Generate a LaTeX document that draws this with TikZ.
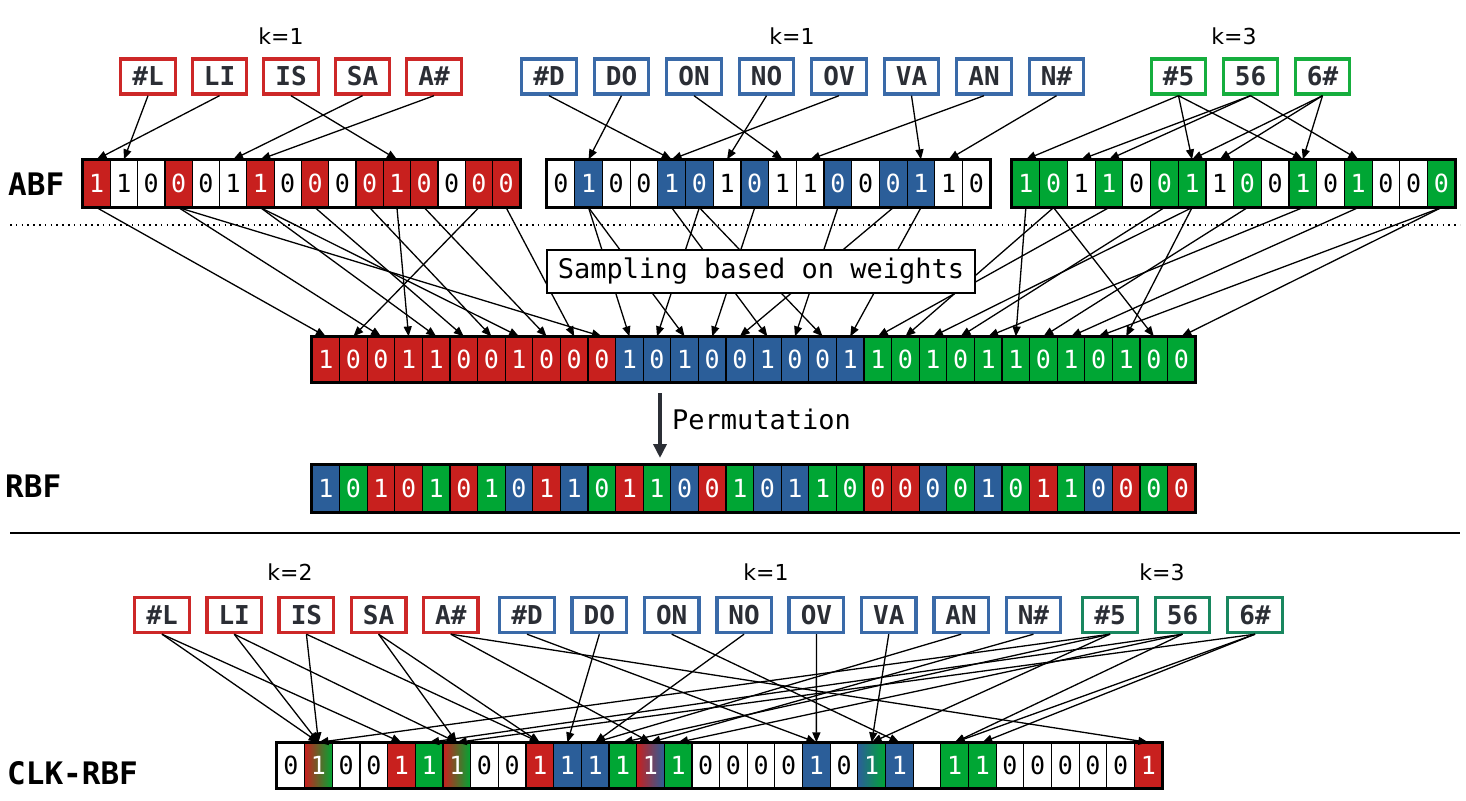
\documentclass[tikz,border=0pt]{standalone}
\usepackage{fontspec}
\setmainfont{DejaVu Sans}
\setmonofont{DejaVu Sans Mono}
\usetikzlibrary{arrows.meta}
\definecolor{cr}{RGB}{200,32,30}
\definecolor{cb}{RGB}{43,94,153}
\definecolor{cg}{RGB}{0,166,52}
\definecolor{br}{RGB}{205,40,40}
\definecolor{bb}{RGB}{58,106,168}
\definecolor{bgr}{RGB}{22,174,62}
\definecolor{bt}{RGB}{24,135,95}
\definecolor{tokc}{RGB}{43,46,53}
\newcommand\bitfont{\ttfamily\fontsize{25}{25}\selectfont}
\newcommand\tokfont{\ttfamily\bfseries\fontsize{26}{26}\selectfont}
\newcommand\labfont{\ttfamily\bfseries\fontsize{31}{31}\selectfont}
\newcommand\kfont{\fontsize{22}{22}\selectfont}
\newcommand\txtfont{\ttfamily\fontsize{27}{27}\selectfont}
\begin{document}
\begin{tikzpicture}[x=1pt,y=-1pt,
 cell/.style={draw=black,line width=1.2pt,inner sep=0pt,font=\bitfont},
 tok/.style={draw,line width=3.4pt,minimum width=54.5pt,minimum height=35pt,inner sep=0pt,font=\tokfont,text=tokc,fill=white},
 arr/.style={-{Triangle[length=10pt,width=8pt]},line width=1.3pt},
 frame/.style={line width=3pt},
 lab/.style={anchor=west,font=\labfont,inner sep=0pt},
 klab/.style={font=\kfont,inner sep=0pt}]
\useasboundingbox (0,0) rectangle (1466,800);

% ---------- labels ----------
\node[lab] (lABF) at (8,184) {ABF};
\node[lab] (lRBF) at (5,486) {RBF};
\node[lab] (lCLK) at (7,773) {CLK-RBF};
\node[klab] (k1a) at (281,36) {k=1};
\node[klab] (k1b) at (792,36) {k=1};
\node[klab] (k3a) at (1234,36) {k=3};
\node[klab] (k2c) at (290,572) {k=2};
\node[klab] (k1c) at (766,572) {k=1};
\node[klab] (k3c) at (1162,572) {k=3};

% ---------- separators ----------
\coordinate (dl) at (10,225); \coordinate (dr) at (1460,225);
\draw[line width=1.4pt,dash pattern=on 1.5pt off 4.3pt] (dl) -- (dr);
\coordinate (sl) at (10,533); \coordinate (sr) at (1460,533);
\draw[line width=1.4pt] (sl) -- (sr);

% ---------- top tokens ----------
\foreach \t [count=\i] in {\#L,LI,IS,SA,A\#}
  \node[tok,draw=br] (tR\i) at ({148+71.5*(\i-1)},76.5) {\t};
\foreach \t [count=\i] in {\#D,DO,ON,NO,OV,VA,AN,N\#}
  \node[tok,draw=bb] (tB\i) at ({549+72.5*(\i-1)},76.5) {\t};
\foreach \t [count=\i] in {\#5,56,6\#}
  \node[tok,draw=bgr] (tG\i) at ({1178.5+72*(\i-1)},76.5) {\t};

% ---------- ABF filters ----------
\foreach \b/\f/\t [count=\i from 0] in {1/cr/white,1/white/black,0/white/black,0/cr/white,0/white/black,1/white/black,1/cr/white,0/white/black,0/cr/white,0/white/black,0/cr/white,1/cr/white,0/cr/white,0/white/black,0/cr/white,0/cr/white}
  \node[cell,minimum width=27.3pt,minimum height=47pt,fill=\f,text=\t] (ar\i) at ({83+27.3*(\i+0.5)},183.5) {\b};
\draw[frame] (ar0.north west) rectangle (ar15.south east);

\foreach \b/\f/\t [count=\i from 0] in {0/white/black,1/cb/white,0/white/black,0/white/black,1/cb/white,0/cb/white,1/white/black,0/cb/white,1/white/black,1/white/black,0/cb/white,0/white/black,0/cb/white,1/cb/white,1/white/black,0/white/black}
  \node[cell,minimum width=27.7pt,minimum height=47pt,fill=\f,text=\t] (ab\i) at ({547+27.7*(\i+0.5)},183.5) {\b};
\draw[frame] (ab0.north west) rectangle (ab15.south east);

\foreach \b/\f/\t [count=\i from 0] in {1/cg/white,0/cg/white,1/white/black,1/cg/white,0/white/black,0/cg/white,1/cg/white,1/white/black,0/cg/white,0/white/black,1/cg/white,0/white/black,1/cg/white,0/white/black,0/white/black,0/cg/white}
  \node[cell,minimum width=27.7pt,minimum height=47pt,fill=\f,text=\t] (ag\i) at ({1012+27.7*(\i+0.5)},183.5) {\b};
\draw[frame] (ag0.north west) rectangle (ag15.south east);

% ---------- top arrows ----------
\foreach \s/\e in {tR1/ar1,tR2/ar0,tR3/ar11,tR4/ar5,tR5/ar6,
  tB1/ab4,tB2/ab1,tB3/ab8,tB4/ab6,tB5/ab4,tB6/ab13,tB7/ab9,tB8/ab14,
  tG1/ag0,tG1/ag6,tG1/ag10,tG2/ag2,tG2/ag3,tG2/ag12,tG3/ag6,tG3/ag7,tG3/ag10}
  \draw[arr] (\s.south) -- (\e.north);

% ---------- combined filter ----------
\foreach \b [count=\i from 0] in {1,0,0,1,1,0,0,1,0,0,0}
  \node[cell,minimum width=27.6pt,minimum height=45pt,fill=cr,text=white] (c\i) at ({312+27.6*(\i+0.5)},359.5) {\b};
\foreach \b [count=\i from 11] in {1,0,1,0,0,1,0,0,1}
  \node[cell,minimum width=27.6pt,minimum height=45pt,fill=cb,text=white] (c\i) at ({312+27.6*(\i+0.5)},359.5) {\b};
\foreach \b [count=\i from 20] in {1,0,1,0,1,1,0,1,0,1,0,0}
  \node[cell,minimum width=27.6pt,minimum height=45pt,fill=cg,text=white] (c\i) at ({312+27.6*(\i+0.5)},359.5) {\b};
\draw[frame] (c0.north west) rectangle (c31.south east);

% ---------- sampling arrows ----------
\foreach \s/\e in {ar0/c0,ar14/c1,ar3/c2,ar11/c3,ar6/c4,ar8/c5,ar10/c6,ar6/c7,ar12/c8,ar15/c9,ar3/c10,
  ab1/c11,ab5/c12,ab1/c13,ab7/c14,ab12/c15,ab4/c16,ab10/c17,ab5/c18,ab13/c19,
  ag3/c20,ag1/c21,ag6/c22,ag5/c23,ag10/c24,ag0/c25,ag8/c26,ag12/c27,ag15/c28,ag6/c29,ag1/c30,ag15/c31}
  \draw[arr] (\s.south) -- (\e.north);

\node[draw,line width=1.3pt,fill=white,minimum width=428pt,minimum height=43pt,inner sep=0pt,font=\txtfont] (samp) at (761,271.5) {Sampling based on weights};

% ---------- permutation ----------
\coordinate (p1) at (660,393);
\coordinate (p2) at (660,458);
\draw[line width=3.5pt,draw=tokc,-{Triangle[length=14pt,width=13pt]}] (p1) -- (p2);
\node[anchor=west,font=\txtfont,inner sep=0pt] (perm) at (672,419) {Permutation};

% ---------- RBF ----------
\foreach \b/\f [count=\i from 0] in {1/cb,0/cg,1/cr,0/cr,1/cg,0/cr,1/cg,0/cb,1/cr,1/cb,0/cg,1/cr,1/cg,0/cb,0/cr,1/cg,0/cb,1/cb,1/cg,0/cg,0/cr,0/cr,0/cb,0/cg,1/cb,0/cg,1/cr,1/cg,0/cb,0/cr,0/cg,0/cr}
  \node[cell,minimum width=27.6pt,minimum height=46pt,fill=\f,text=white] (r\i) at ({312+27.6*(\i+0.5)},488.5) {\b};
\draw[frame] (r0.north west) rectangle (r31.south east);

% ---------- lower tokens ----------
\foreach \t [count=\i] in {\#L,LI,IS,SA,A\#}
  \node[tok,draw=br] (lR\i) at ({162+72.2*(\i-1)},615) {\t};
\foreach \t [count=\i] in {\#D,DO,ON,NO,OV,VA,AN,N\#}
  \node[tok,draw=bb] (lB\i) at ({527+72.35*(\i-1)},615) {\t};
\foreach \t [count=\i] in {\#5,56,6\#}
  \node[tok,draw=bt] (lG\i) at ({1110+72.5*(\i-1)},615) {\t};

% ---------- CLK-RBF ----------
\foreach \i/\l/\r in {1/cr/cg,6/cr/cg,13/cr/cb,21/cb/cg}
  \shade[left color=\l,right color=\r] ({277+27.66*\i},743) rectangle ({277+27.66*(\i+1)},788);
\foreach \b/\f/\t [count=\i from 0] in {0/white/black,1/none/white,0/white/black,0/white/black,1/cr/white,1/cg/white,1/none/white,0/white/black,0/white/black,1/cr/white,1/cb/white,1/cb/white,1/cg/white,1/none/white,1/cg/white,0/white/black,0/white/black,0/white/black,0/white/black,1/cb/white,0/white/black,1/none/white,1/cb/white,{}/white/black,1/cg/white,1/cg/white,0/white/black,0/white/black,0/white/black,0/white/black,0/white/black,1/cr/white}
  \node[cell,minimum width=27.66pt,minimum height=45pt,fill=\f,text=\t] (k\i) at ({277+27.66*(\i+0.5)},765.5) {\b};
\draw[frame] (k0.north west) rectangle (k31.south east);

% ---------- lower arrows ----------
\foreach \s/\e in {lR1/k1,lR1/k4,lR2/k1,lR2/k6,lR3/k1,lR3/k9,lR4/k6,lR4/k9,lR5/k13,lR5/k31,
  lB1/k19,lB2/k10,lB3/k22,lB4/k11,lB5/k19,lB6/k21,lB7/k11,lB8/k13,
  lG1/k1,lG1/k12,lG1/k21,lG2/k5,lG2/k14,lG2/k24,lG3/k6,lG3/k24,lG3/k25}
  \draw[arr] (\s.south) -- (\e.north);
\end{tikzpicture}
\end{document}
